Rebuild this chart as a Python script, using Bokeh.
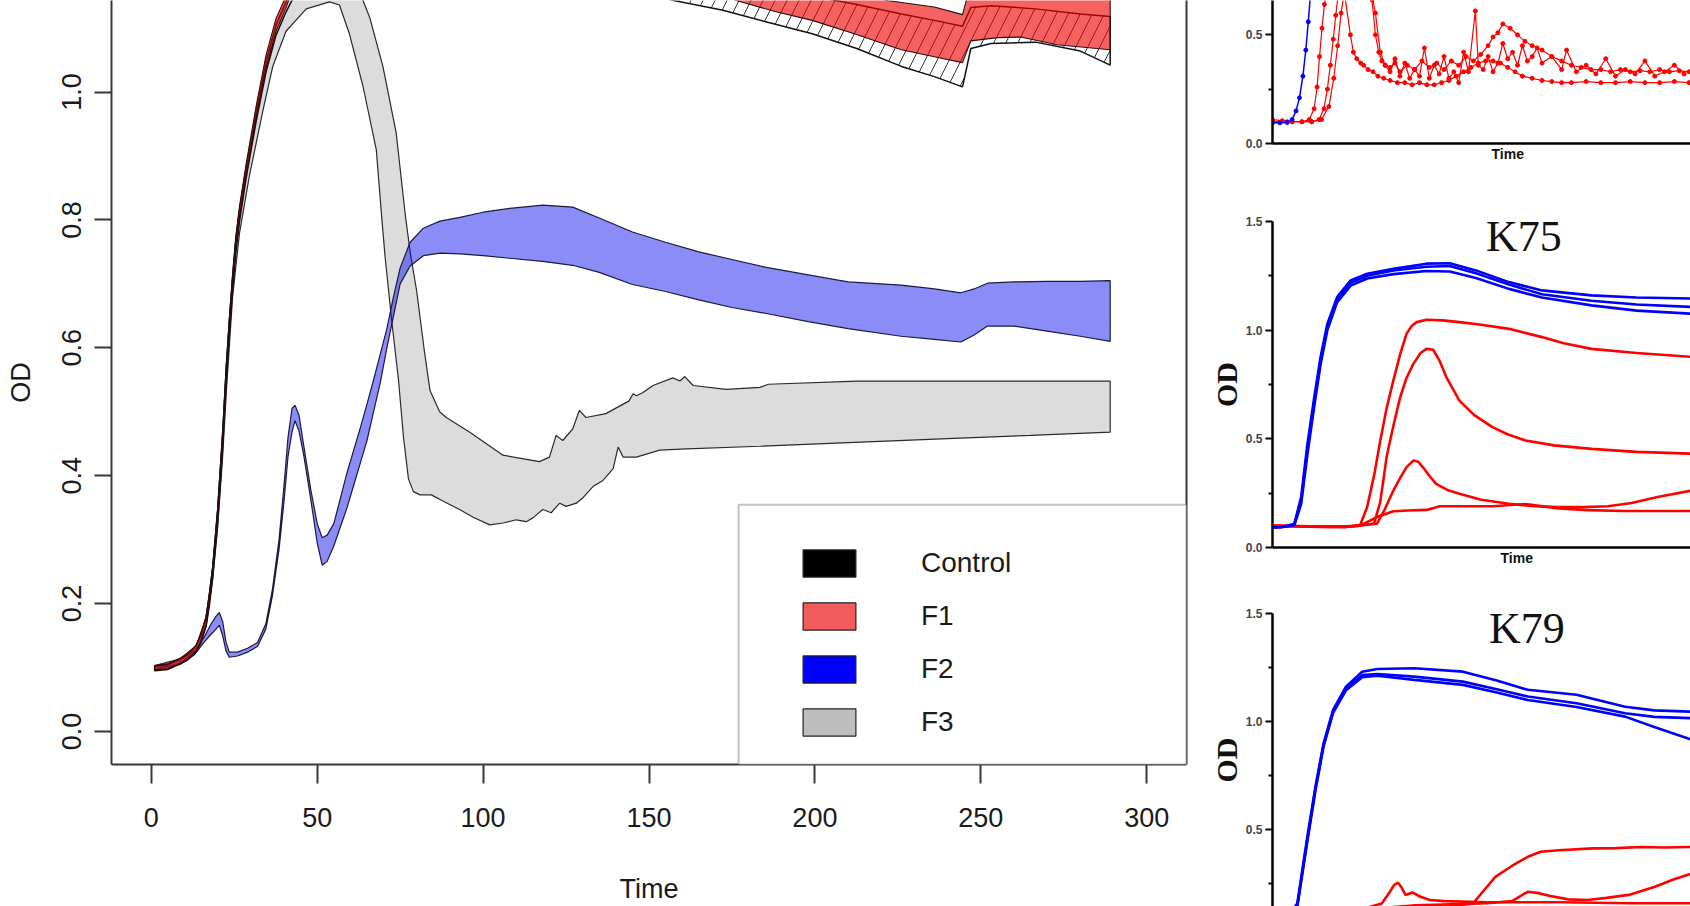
from math import pi
from bokeh.plotting import figure
from bokeh.models import (Range1d, FixedTicker, PrintfTickFormatter, LinearAxis,
                          Label, BoxAnnotation, Legend, LegendItem)
from bokeh.layouts import row, column
from bokeh.embed import file_html
from bokeh.resources import INLINE

# ---------------- main panel data ----------------
x_ticks = [0, 50, 100, 150, 200, 250, 300]
y_ticks = [0.0, 0.2, 0.4, 0.6, 0.8, 1.0]
legend_labels = ["Control", "F1", "F2", "F3"]

ctrl_time = [1, 5, 8.5, 11, 13.5, 15, 16.5, 17.5, 18.5, 20, 21.5, 22.6, 23.5, 24.5, 25.5, 26.6,
             28.6, 31.6, 34.6, 37.6, 40.6, 44, 50, 60, 75, 100, 130, 157.5, 172.3, 185.8, 199.2,
             212.6, 226.1, 236, 244.5, 247, 253.1, 266.5, 280, 289]
ctrl_low = [0.095, 0.097, 0.105, 0.112, 0.124, 0.139, 0.164, 0.197, 0.240, 0.326, 0.444, 0.548,
            0.620, 0.690, 0.750, 0.798, 0.866, 0.954, 1.032, 1.089, 1.125, 1.16, 1.20, 1.22, 1.225,
            1.21, 1.18, 1.143, 1.128, 1.109, 1.091, 1.068, 1.040, 1.024, 1.008, 1.068, 1.076, 1.078,
            1.064, 1.042]
ctrl_high = [0.101, 0.104, 0.113, 0.120, 0.134, 0.151, 0.178, 0.213, 0.256, 0.346, 0.466, 0.570,
             0.640, 0.710, 0.770, 0.816, 0.882, 0.970, 1.048, 1.105, 1.141, 1.19, 1.23, 1.26, 1.27,
             1.26, 1.23, 1.20, 1.18, 1.165, 1.15, 1.137, 1.122, 1.112, 1.103, 1.132, 1.135, 1.130,
             1.122, 1.118]

f1_time = [1, 5, 8.5, 11, 13.5, 15, 16.5, 17.5, 18.5, 20, 21.5, 22.6, 23.5, 24.5, 25.5, 26.6,
           28.6, 31.6, 34.6, 37.6, 40.6, 44, 50, 60, 75, 100, 130, 160, 176.3, 188, 199.2, 212.6,
           222, 226.1, 236, 244.5, 247, 255, 262, 273, 289]
f1_low = [0.096, 0.098, 0.106, 0.113, 0.126, 0.141, 0.167, 0.201, 0.244, 0.332, 0.450, 0.555,
          0.626, 0.696, 0.757, 0.804, 0.871, 0.960, 1.038, 1.095, 1.132, 1.18, 1.22, 1.25, 1.26,
          1.25, 1.22, 1.18, 1.143, 1.126, 1.112, 1.090, 1.073, 1.066, 1.055, 1.046, 1.080, 1.085,
          1.086, 1.074, 1.066]
f1_high = [0.102, 0.105, 0.114, 0.121, 0.135, 0.152, 0.180, 0.215, 0.259, 0.350, 0.470, 0.575,
           0.646, 0.716, 0.776, 0.822, 0.888, 0.978, 1.058, 1.115, 1.150, 1.22, 1.27, 1.30, 1.31,
           1.30, 1.27, 1.22, 1.20, 1.18, 1.17, 1.155, 1.143, 1.140, 1.133, 1.121, 1.17, 1.175,
           1.172, 1.165, 1.16]

f2_time = [1, 5, 9, 13, 16, 18, 19.5, 20.5, 21.5, 22.5, 23.5, 26, 29, 32, 34.5, 36.5, 38.5, 40,
           41.2, 42.4, 43.3, 44.5, 46, 48, 50, 51.5, 53, 55, 57, 59, 61, 63, 65, 67, 69, 71, 73,
           75, 78, 82, 87, 93, 100, 108, 118, 127, 135, 145, 155, 165, 175, 185, 198, 210, 226,
           236, 244, 248, 252, 260, 270, 280, 289]
f2_low = [0.097, 0.100, 0.106, 0.120, 0.140, 0.152, 0.160, 0.166, 0.150, 0.126, 0.116, 0.118,
          0.124, 0.133, 0.160, 0.212, 0.285, 0.360, 0.430, 0.468, 0.486, 0.470, 0.430, 0.365,
          0.295, 0.260, 0.266, 0.290, 0.320, 0.350, 0.385, 0.420, 0.455, 0.500, 0.545, 0.600,
          0.650, 0.700, 0.728, 0.744, 0.748, 0.747, 0.744, 0.740, 0.735, 0.729, 0.718, 0.699,
          0.688, 0.675, 0.663, 0.654, 0.641, 0.630, 0.618, 0.613, 0.609, 0.620, 0.634, 0.634,
          0.626, 0.618, 0.610]
f2_high = [0.103, 0.106, 0.112, 0.127, 0.148, 0.168, 0.180, 0.186, 0.172, 0.140, 0.124, 0.124,
           0.130, 0.139, 0.168, 0.222, 0.300, 0.385, 0.460, 0.505, 0.510, 0.495, 0.445, 0.380,
           0.325, 0.303, 0.307, 0.325, 0.365, 0.405, 0.440, 0.475, 0.512, 0.550, 0.590, 0.630,
           0.680, 0.725, 0.765, 0.787, 0.798, 0.804, 0.812, 0.818, 0.823, 0.820, 0.803, 0.781,
           0.765, 0.750, 0.738, 0.726, 0.714, 0.703, 0.698, 0.692, 0.686, 0.692, 0.701, 0.703,
           0.704, 0.704, 0.705]

f3_low_time = [1, 8.5, 13.5, 16.5, 18.5, 20, 21.5, 22.6, 24.5, 26.6, 29.6, 33.6, 36.6, 40.6,
               46.7, 53.7, 56.7, 59.7, 63.8, 67.8, 69.5, 70.5, 72.5, 74.5, 76, 77.5, 79, 81, 84.4,
               88, 92.9, 97, 102, 106, 110, 113, 115, 118, 120.5, 123.1, 125, 128.1, 130, 133.1,
               136, 139.2, 140.7, 142.2, 146.2, 153.2, 161.3, 183.4, 212, 240, 265, 289]
f3_low = [0.097, 0.106, 0.126, 0.165, 0.24, 0.32, 0.43, 0.53, 0.68, 0.78, 0.870, 0.97, 1.04,
          1.095, 1.13, 1.141, 1.136, 1.091, 1.009, 0.910, 0.80, 0.74, 0.64, 0.55, 0.46, 0.395,
          0.375, 0.370, 0.370, 0.360, 0.347, 0.335, 0.323, 0.326, 0.331, 0.328, 0.334, 0.347,
          0.342, 0.357, 0.352, 0.357, 0.365, 0.383, 0.392, 0.411, 0.445, 0.429, 0.429, 0.440,
          0.442, 0.446, 0.452, 0.458, 0.463, 0.468]
f3_high_time = [1, 8.5, 13.5, 16.5, 18.5, 20, 21.5, 22.6, 23.5, 24.5, 25.5, 26.6, 28.6, 31.6,
                34.6, 37.6, 40.6, 44, 50, 55, 60, 63.8, 65.8, 69.8, 73.8, 76.5, 78, 80, 82.3, 84,
                86.9, 88.9, 96, 106, 117, 120, 122, 124, 127, 129, 131, 137, 144, 145.2, 146.2,
                148.2, 151.2, 157.2, 159.3, 160.8, 163.3, 173.3, 183.4, 186, 212.6, 250, 289]
f3_high = [0.103, 0.113, 0.134, 0.178, 0.256, 0.346, 0.466, 0.570, 0.640, 0.710, 0.770, 0.816,
           0.882, 0.970, 1.048, 1.105, 1.141, 1.18, 1.20, 1.20, 1.18, 1.143, 1.117, 1.040, 0.936,
           0.81, 0.75, 0.688, 0.595, 0.533, 0.50, 0.491, 0.468, 0.432, 0.422, 0.429, 0.463,
           0.455, 0.473, 0.502, 0.491, 0.497, 0.517, 0.528, 0.525, 0.530, 0.541, 0.553, 0.548,
           0.555, 0.541, 0.535, 0.538, 0.543, 0.548, 0.548, 0.548]

# ---------------- right-hand panels data ----------------
top_time_blue = [0, 1.5, 3, 4, 4.8, 5.5, 6.2, 6.8, 7.3, 7.8]
top_blue = [0.095, 0.095, 0.097, 0.11, 0.15, 0.21, 0.31, 0.43, 0.56, 0.70]
top_time_red_a = [0, 2, 4, 6, 7.5, 8.5, 9.1, 9.6, 10.1, 10.6, 11.5, 13, 14.5, 15.9, 16.5, 17.2,
                  18, 18.6, 19.5, 20.5, 21.5, 22.7, 24, 25.5, 27, 28.5, 30, 31.5, 33, 34.5, 36,
                  37.5, 39, 40.5, 42, 43.5, 45, 46.5, 48, 49.5, 51, 53, 55, 57, 59, 61, 64, 67,
                  70, 73, 76, 79, 82, 85]
top_red_a = [0.11, 0.105, 0.10, 0.10, 0.11, 0.16, 0.26, 0.40, 0.53, 0.64, 0.75, 0.80, 0.72,
             0.50, 0.42, 0.39, 0.37, 0.36, 0.34, 0.33, 0.31, 0.30, 0.29, 0.28, 0.28, 0.27, 0.28,
             0.27, 0.27, 0.28, 0.29, 0.31, 0.33, 0.35, 0.37, 0.38, 0.38, 0.37, 0.35, 0.33, 0.31,
             0.30, 0.29, 0.285, 0.28, 0.28, 0.285, 0.28, 0.28, 0.285, 0.28, 0.28, 0.285, 0.28]
top_time_red_b = [0, 3, 6, 8, 9.5, 10.5, 11.2, 11.8, 12.4, 12.9, 13.5, 15, 17, 19, 20.3, 21,
                  21.7, 22.3, 23, 24, 25, 26, 27.5, 29, 30.5, 32, 33.5, 35, 36.5, 38, 39.5, 41,
                  42.5, 44, 45, 46, 47, 48.5, 50, 51.5, 53, 55, 57, 59, 61, 63, 65, 67, 69, 71,
                  73, 75, 77, 79, 81, 83, 85]
top_red_b = [0.10, 0.10, 0.10, 0.10, 0.11, 0.16, 0.25, 0.36, 0.48, 0.59, 0.70, 0.82, 0.85, 0.80,
             0.66, 0.50, 0.42, 0.38, 0.36, 0.35, 0.37, 0.33, 0.36, 0.34, 0.38, 0.35, 0.37, 0.34,
             0.38, 0.36, 0.40, 0.38, 0.41, 0.45, 0.49, 0.51, 0.55, 0.53, 0.50, 0.47, 0.45, 0.43,
             0.40, 0.38, 0.36, 0.35, 0.34, 0.34, 0.33, 0.34, 0.33, 0.335, 0.33, 0.34, 0.33,
             0.335, 0.33]
top_time_red_c = [0, 4, 8, 10, 11.5, 12.5, 13.3, 14, 15, 17, 19.5, 21, 22, 23, 24, 25, 26, 27,
                  28, 29, 30, 31, 32, 33, 34, 35, 36, 37, 38, 39, 40, 41.4, 42, 43, 44, 45, 46,
                  47, 48, 49, 50, 51, 52, 53, 54, 55, 57, 59, 60, 62, 64, 66, 68, 70, 72, 74, 76,
                  78, 80, 82, 84]
top_red_c = [0.10, 0.10, 0.10, 0.11, 0.17, 0.30, 0.45, 0.60, 0.75, 0.80, 0.78, 0.60, 0.42, 0.36,
             0.33, 0.39, 0.31, 0.37, 0.30, 0.34, 0.31, 0.44, 0.30, 0.36, 0.32, 0.40, 0.30, 0.33,
             0.28, 0.42, 0.33, 0.61, 0.36, 0.34, 0.40, 0.33, 0.37, 0.46, 0.39, 0.42, 0.36, 0.45,
             0.38, 0.40, 0.44, 0.37, 0.40, 0.34, 0.43, 0.33, 0.36, 0.32, 0.39, 0.31, 0.34, 0.32,
             0.38, 0.31, 0.33, 0.36, 0.32]

k75_time_blue = [0, 2, 4.5, 5.9, 7.2, 8.6, 9.9, 11.3, 13.3, 16.1, 19.5, 24.9, 31.7, 36.5, 41.9,
                 48.7, 55.5, 65.7, 75, 87]
k75_blue_1 = [0.092, 0.094, 0.109, 0.232, 0.477, 0.692, 0.876, 1.029, 1.152, 1.229, 1.260, 1.282,
              1.306, 1.308, 1.275, 1.221, 1.183, 1.160, 1.150, 1.145]
k75_blue_2 = [0.092, 0.094, 0.105, 0.215, 0.455, 0.670, 0.860, 1.015, 1.140, 1.218, 1.250, 1.275,
              1.292, 1.295, 1.262, 1.210, 1.165, 1.135, 1.118, 1.106]
k75_blue_3 = [0.092, 0.094, 0.102, 0.200, 0.430, 0.650, 0.842, 1.000, 1.128, 1.205, 1.238, 1.258,
              1.272, 1.270, 1.240, 1.190, 1.150, 1.114, 1.090, 1.075]
k75_time_red_1 = [0, 10, 15, 18, 19.5, 21, 22.2, 23.5, 24.9, 26.3, 27.6, 28.7, 29.7, 31.7, 35,
                  38.5, 43, 48.7, 55.5, 60, 65.7, 75, 87]
k75_red_1 = [0.10, 0.095, 0.095, 0.10, 0.186, 0.34, 0.492, 0.64, 0.769, 0.89, 0.983, 1.02, 1.037,
             1.048, 1.045, 1.037, 1.025, 1.006, 0.968, 0.94, 0.914, 0.895, 0.876]
k75_time_red_2 = [0, 15, 20.9, 22.2, 23.5, 24.9, 26.3, 27.6, 29.0, 30.5, 31.7, 33.1, 34.4, 35.8,
                  38.5, 41.5, 45.3, 48.5, 52.1, 58, 65.7, 75, 87]
k75_red_2 = [0.10, 0.095, 0.109, 0.21, 0.416, 0.56, 0.692, 0.78, 0.845, 0.895, 0.914, 0.91, 0.86,
             0.784, 0.676, 0.61, 0.554, 0.52, 0.492, 0.47, 0.454, 0.44, 0.431]
k75_time_red_3 = [0, 15, 21.5, 23, 24.9, 26.3, 27.6, 29.0, 30, 31.0, 32.3, 33.7, 36, 38.5, 43,
                  48.7, 54, 58.9, 64, 69.1, 74, 79.3, 87]
k75_red_3 = [0.10, 0.095, 0.11, 0.17, 0.262, 0.32, 0.37, 0.400, 0.395, 0.369, 0.33, 0.293, 0.265,
             0.247, 0.22, 0.201, 0.19, 0.186, 0.186, 0.19, 0.205, 0.232, 0.265]
k75_time_red_4 = [0, 12, 18, 21.5, 24.9, 28, 31.7, 33, 34.4, 40, 45.3, 52.1, 58.9, 65, 72.5, 87]
k75_red_4 = [0.10, 0.095, 0.10, 0.14, 0.167, 0.17, 0.173, 0.18, 0.19, 0.19, 0.19, 0.20, 0.18,
             0.172, 0.168, 0.168]

k79_time_blue = [0, 3, 5.2, 7.3, 9.0, 10.7, 12.7, 15.4, 18.8, 22, 29.7, 39.9, 47, 53.5, 63.7,
                 73.9, 80, 88]
k79_blue_1 = [0.09, 0.095, 0.159, 0.468, 0.699, 0.900, 1.054, 1.162, 1.231, 1.243, 1.247, 1.231,
              1.19, 1.147, 1.124, 1.069, 1.052, 1.046]
k79_blue_2 = [0.09, 0.095, 0.150, 0.455, 0.690, 0.892, 1.046, 1.152, 1.215, 1.220, 1.208, 1.185,
              1.15, 1.116, 1.085, 1.039, 1.022, 1.016]
k79_blue_3 = [0.09, 0.095, 0.145, 0.445, 0.680, 0.885, 1.040, 1.145, 1.205, 1.212, 1.193, 1.170,
              1.135, 1.100, 1.068, 1.023, 0.975, 0.915]
k79_time_red_1 = [0, 20, 35, 42.0, 46.7, 50, 53.5, 56.2, 60, 67.1, 72, 77.3, 82, 88]
k79_red_1 = [0.10, 0.12, 0.14, 0.159, 0.282, 0.33, 0.375, 0.398, 0.405, 0.414, 0.415, 0.42, 0.418,
             0.42]
k79_time_red_2 = [0, 15, 20, 22.9, 24.5, 25.5, 26.3, 27.0, 27.9, 29.3, 31.0, 33, 36, 45, 60, 75,
                  88]
k79_red_2 = [0.10, 0.12, 0.14, 0.159, 0.21, 0.245, 0.255, 0.235, 0.198, 0.21, 0.19, 0.175, 0.17,
             0.165, 0.165, 0.16, 0.16]
k79_time_red_3 = [0, 30, 45, 50.2, 53.5, 55.5, 58, 62, 66, 70, 75, 80, 84, 88]
k79_red_3 = [0.10, 0.15, 0.16, 0.17, 0.213, 0.208, 0.195, 0.178, 0.175, 0.185, 0.2, 0.235, 0.27,
             0.298]

SANS = "Liberation Sans"
SERIF = "Liberation Serif"
AXIS = "#383838"

# ---------------- main figure ----------------
p = figure(width=1194, height=906, x_range=Range1d(-12, 312), y_range=Range1d(-0.0517, 1.1431),
           output_backend="svg", toolbar_location=None,
           min_border_left=111, min_border_right=8, min_border_top=0, min_border_bottom=136)
p.grid.visible = False
p.outline_line_color = None
p.background_fill_color = "white"


def band(time_lo, lo, time_hi, hi):
    return list(time_lo) + list(time_hi)[::-1], list(lo) + list(hi)[::-1]


xs, ys = band(f3_low_time, f3_low, f3_high_time, f3_high)
p.patch(xs, ys, fill_color="#DCDCDC", fill_alpha=1.0, line_color="#2a2a2a", line_width=1.2)

xs, ys = band(f2_time, f2_low, f2_time, f2_high)
p.patch(xs, ys, fill_color="#0000F0", fill_alpha=0.45, line_color="#1a1a40", line_width=1.2)

xs, ys = band(ctrl_time, ctrl_low, ctrl_time, ctrl_high)
p.patch(xs, ys, fill_color=None, hatch_pattern="/", hatch_color="#333333", hatch_scale=24,
        hatch_weight=1.0, line_color="#111111", line_width=1.5)

xs, ys = band(f1_time, f1_low, f1_time, f1_high)
p.patch(xs, ys, fill_color="#F00000", fill_alpha=0.62, line_color="#2a0c0c", line_width=1.1)

# axes
p.xaxis.ticker = FixedTicker(ticks=x_ticks)
p.xaxis.formatter = PrintfTickFormatter(format="%d")
p.yaxis.ticker = FixedTicker(ticks=y_ticks)
p.yaxis.formatter = PrintfTickFormatter(format="%.1f")
for ax in (p.xaxis[0], p.yaxis[0]):
    ax.axis_line_color = AXIS
    ax.axis_line_width = 2
    ax.major_tick_line_color = AXIS
    ax.major_tick_line_width = 2
    ax.major_tick_in = 0
    ax.minor_tick_line_color = None
    ax.major_label_text_font = SANS
    ax.major_label_text_font_size = "27px"
    ax.major_label_text_color = "#1a1a1a"
    ax.axis_label_text_font = SANS
    ax.axis_label_text_font_size = "27px"
    ax.axis_label_text_font_style = "normal"
    ax.axis_label_text_color = "#1a1a1a"
p.xaxis.major_tick_out = 19
p.xaxis.major_label_standoff = 24
p.xaxis.axis_label = "Time"
p.xaxis.axis_label_standoff = 44
p.yaxis.major_tick_out = 17
p.yaxis.major_label_standoff = 13
p.yaxis.major_label_orientation = "vertical"
p.yaxis.axis_label = "OD"
p.yaxis.axis_label_standoff = 24

right_line = LinearAxis(ticker=FixedTicker(ticks=[]), axis_line_color=AXIS, axis_line_width=2,
                        major_tick_line_color=None, minor_tick_line_color=None)
p.add_layout(right_line, "right")

# legend box + legend
p.add_layout(BoxAnnotation(left=177.0, top=0.3544, fill_color="white", fill_alpha=1.0,
                           line_color=AXIS, line_width=2))
swatch_fill = ["#000000", "#F25C5C", "#0000FF", "#BEBEBE"]
items = []
for lab, col in zip(legend_labels, swatch_fill):
    r = p.patch([-200, -199, -199], [-5, -5, -4], fill_color=col, line_color="#222222",
                line_width=1.2)
    items.append(LegendItem(label=lab, renderers=[r]))
legend = Legend(items=items, location="bottom_right", margin=25, padding=10, glyph_width=66,
                glyph_height=34, label_standoff=59, label_width=240, label_height=34, spacing=19,
                border_line_color=None, background_fill_alpha=0, label_text_font=SANS,
                label_text_font_size="28px", label_text_color="#1a1a1a")
p.add_layout(legend)

# ---------------- right-hand small panels ----------------


def small_fig(width, height, xr, yr, left, top, bottom, with_x=True, xlabel_offset=None):
    kw = {}
    if xlabel_offset is not None:
        kw = dict(title="Time", title_location="below")
    f = figure(width=width, height=height, x_range=Range1d(*xr), y_range=Range1d(*yr),
               output_backend="svg", toolbar_location=None,
               min_border_left=left, min_border_right=0, min_border_top=top,
               min_border_bottom=bottom, x_axis_location="below" if with_x else None, **kw)
    f.grid.visible = False
    f.outline_line_color = None
    if xlabel_offset is not None:
        f.title.align = "left"
        f.title.offset = xlabel_offset
        f.title.standoff = 0
        f.title.text_font = SANS
        f.title.text_font_style = "bold"
        f.title.text_font_size = "14px"
        f.title.text_color = "#111111"
    return f


def style_y(f, ticks, minor, label=None):
    ax = f.yaxis[0]
    ax.ticker = FixedTicker(ticks=ticks, minor_ticks=minor)
    ax.formatter = PrintfTickFormatter(format="%.1f")
    ax.axis_line_width = 2.5
    ax.axis_line_color = "black"
    ax.major_tick_line_width = 2
    ax.minor_tick_line_width = 2
    ax.major_tick_out = 7
    ax.major_tick_in = 0
    ax.minor_tick_out = 4
    ax.minor_tick_in = 0
    ax.major_label_text_font = SANS
    ax.major_label_text_font_style = "bold"
    ax.major_label_text_font_size = "12px"
    ax.major_label_standoff = 3
    if label:
        ax.axis_label = label
        ax.axis_label_text_font = SERIF
        ax.axis_label_text_font_style = "bold"
        ax.axis_label_text_font_size = "30px"
        ax.axis_label_text_color = "#111111"
        ax.axis_label_standoff = 0


def style_x(f):
    ax = f.xaxis[0]
    ax.ticker = FixedTicker(ticks=[])
    ax.axis_line_width = 2.5
    ax.axis_line_color = "black"
    ax.major_tick_line_color = None
    ax.minor_tick_line_color = None


RED = "#FF0000"
BLUE = "#0000FF"

# top (partially visible) panel
fa = small_fig(496, 175, (0, 85.3), (0, 0.658), 78, 0, 32, xlabel_offset=219)
style_y(fa, [0.0, 0.5], [0.25])
style_x(fa)
for tx, ty in ((top_time_red_a, top_red_a), (top_time_red_b, top_red_b),
               (top_time_red_c, top_red_c)):
    fa.line(tx, ty, color=RED, line_width=1.2)
    fa.scatter(tx, ty, marker="circle", size=4, color=RED)
fa.line(top_time_blue, top_blue, color=BLUE, line_width=1.5)
fa.scatter(top_time_blue, top_blue, marker="circle", size=4, color=BLUE)

# K75 panel
fb = small_fig(496, 400, (0, 86.1), (0, 1.5), 74, 46, 28, xlabel_offset=228)
style_y(fb, [0.0, 0.5, 1.0, 1.5], [0.25, 0.75, 1.25], label="OD")
style_x(fb)
for tx, ty in ((k75_time_red_1, k75_red_1), (k75_time_red_2, k75_red_2),
               (k75_time_red_3, k75_red_3), (k75_time_red_4, k75_red_4)):
    fb.line(tx, ty, color=RED, line_width=2.6)
for ty in (k75_blue_1, k75_blue_2, k75_blue_3):
    fb.line(k75_time_blue, ty, color=BLUE, line_width=2.6)
fb.add_layout(Label(x=51.8, y=1.431, text="K75", text_align="center", text_baseline="alphabetic",
                    text_font=SERIF, text_font_size="44px", text_color="#111111"))

# K79 panel (cut at the bottom)
fc = small_fig(496, 331, (0, 87.6), (0.145, 1.5), 67, 38, 0, with_x=False)
style_y(fc, [0.5, 1.0, 1.5], [0.25, 0.75, 1.25], label="OD")
for tx, ty in ((k79_time_red_1, k79_red_1), (k79_time_red_2, k79_red_2),
               (k79_time_red_3, k79_red_3)):
    fc.line(tx, ty, color=RED, line_width=2.6)
for ty in (k79_blue_1, k79_blue_2, k79_blue_3):
    fc.line(k79_time_blue, ty, color=BLUE, line_width=2.6)
fc.add_layout(Label(x=53.3, y=1.432, text="K79", text_align="center", text_baseline="alphabetic",
                    text_font=SERIF, text_font_size="44px", text_color="#111111"))

layout = row(p, column(fa, fb, fc))
open("out.html", "w").write(file_html(layout, INLINE))
